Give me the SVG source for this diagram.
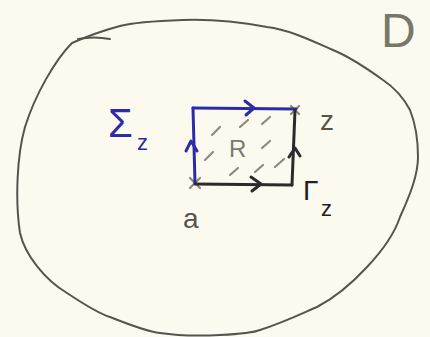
<svg xmlns="http://www.w3.org/2000/svg" width="430" height="337" viewBox="0 0 430 337">
<style>
.pen{fill:none;stroke-linecap:round;stroke-linejoin:round}
.blk{stroke:#2b2b2b;stroke-width:3}
.blu{stroke:#2c2ca6;stroke-width:3}
.gry{stroke:#8a8a80;stroke-width:2.2}
.bnd{stroke:#555550;stroke-width:2}
text{font-family:"Liberation Sans","DejaVu Sans",sans-serif}
</style>
<rect width="430" height="337" fill="#fcfaee"/>
<g id="domain-D">
<path class="pen bnd" d="M72,43 C55,60 35,95 25,127 C17,155 15,200 20,233 C25,255 45,280 67,293 C85,305 100,314 110,317 C130,325 150,332 160,333 C180,336 200,336 220,335 C240,334 255,332 260,330 C285,322 305,312 317,307 C340,295 355,280 367,267 C385,248 395,232 400,217 C410,195 418,175 418,157 C418,135 414,120 410,110 C402,95 392,86 383,80 C365,67 350,57 333,50 C310,40 290,30 267,27 C240,22 210,19 183,20 C155,21 135,22 120,26 C105,30 90,35 72,43"/>
<path class="pen bnd" d="M78,39 C88,37 100,37 110,39"/>
<text x="381" y="47" font-size="48" fill="#76786a">D</text>
</g>
<g id="region-R">
<g class="pen gry">
<path d="M212,135 L220,127"/><path d="M240,127 L248,120"/><path d="M262,124 L270,117"/>
<path d="M205,160 L213,152"/><path d="M262,148 L270,141"/>
<path d="M230,175 L238,168"/><path d="M255,172 L263,165"/><path d="M275,167 L284,159"/>
</g>
<text x="229" y="157" font-size="24" fill="#7a7a70">R</text>
</g>
<g id="point-a">
<path class="pen gry" d="M190,178 L200,188 M200,178 L190,188"/>
<text x="183" y="228" font-size="28" fill="#555550">a</text>
</g>
<g id="point-z">
<path class="pen gry" d="M291,106 L299,114 M299,106 L291,114"/>
<text x="320" y="130" font-size="28" fill="#555550">z</text>
</g>
<g id="label-sigma">
<text x="108" y="137" font-size="40" fill="#2c2ca6">Σ</text>
<text x="137" y="150" font-size="22" fill="#2c2ca6">z</text>
</g>
<g id="label-gamma">
<text x="303" y="200" font-size="28" fill="#1f1f1f">Γ</text>
<text x="321" y="216" font-size="22" fill="#1f1f1f">z</text>
</g>
<g id="connectors">
<path class="pen blu" d="M195,183 L193,108"/>
<path class="pen blu" d="M186,151 L191,141 L197,151"/>
<path class="pen blu" d="M193,108 L296,109"/>
<path class="pen blu" d="M245,101 L254,108 L246,115"/>
<path class="pen blk" d="M195,184 L292,185"/>
<path class="pen blk" d="M251,177 L261,184 L252,191"/>
<path class="pen blk" d="M292,185 L295,110"/>
<path class="pen blk" d="M289,157 L295,148 L300,156"/>
</g>
</svg>
